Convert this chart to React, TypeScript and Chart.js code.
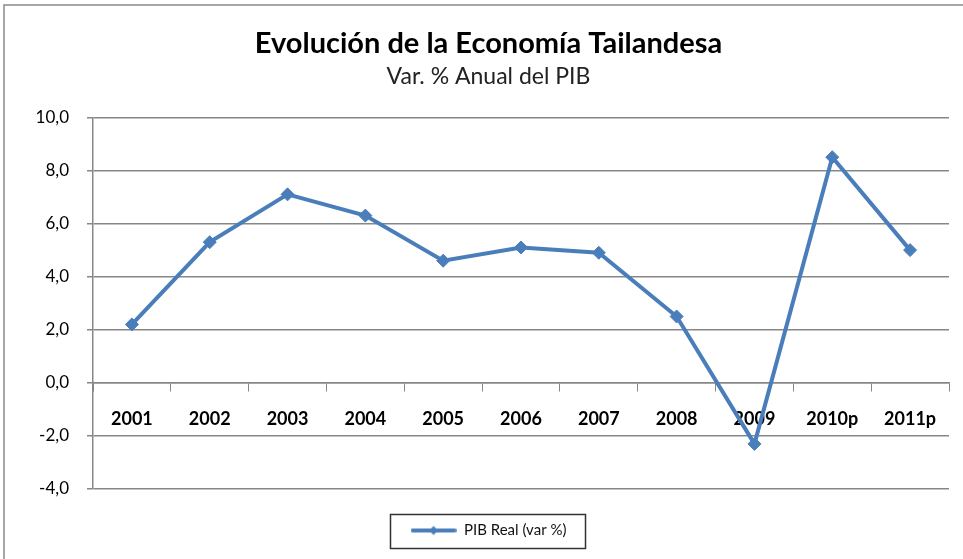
import React, { useEffect, useRef } from "react";
import { Chart, registerables } from "chart.js";

Chart.register(...registerables);

const categories = ["2001", "2002", "2003", "2004", "2005", "2006", "2007", "2008", "2009", "2010p", "2011p"];
const pibReal = [2.2, 5.3, 7.1, 6.3, 4.6, 5.1, 4.9, 2.5, -2.3, 8.5, 5.0];
const seriesLabel = "PIB Real (var %)";
const titleText = "Evolución de la Economía Tailandesa";
const subtitleText = "Var. % Anual del PIB";
const yMin = -4;
const yMax = 10;
const yStep = 2;

const BLUE = "#4A7EBB";
const GRID = "#878787";
const FONT = "Lato, 'Open Sans', sans-serif";

function makeLegendIcon(): HTMLCanvasElement {
  const c = document.createElement("canvas");
  c.width = 46;
  c.height = 12;
  const ctx = c.getContext("2d")!;
  ctx.strokeStyle = BLUE;
  ctx.lineWidth = 4;
  ctx.lineCap = "round";
  ctx.beginPath();
  ctx.moveTo(2, 6);
  ctx.lineTo(44, 6);
  ctx.stroke();
  ctx.fillStyle = BLUE;
  ctx.beginPath();
  ctx.moveTo(23, 1.5);
  ctx.lineTo(27.5, 6);
  ctx.lineTo(23, 10.5);
  ctx.lineTo(18.5, 6);
  ctx.closePath();
  ctx.fill();
  return c;
}

const framePlugin = {
  id: "frame",
  beforeDraw(chart: any) {
    const ctx = chart.ctx;
    ctx.save();
    ctx.fillStyle = "#ffffff";
    ctx.fillRect(0, 0, chart.width, chart.height);
    ctx.strokeStyle = "#8a8a8a";
    ctx.lineWidth = 1.5;
    ctx.strokeRect(4, 5, chart.width + 20, chart.height + 20);
    ctx.restore();
  },
  afterDraw(chart: any) {
    const lg = chart.legend;
    if (!lg || !lg.legendHitBoxes || !lg.legendHitBoxes.length) return;
    const hb = lg.legendHitBoxes[0];
    const ctx = chart.ctx;
    ctx.save();
    ctx.strokeStyle = "#333333";
    ctx.lineWidth = 1.5;
    const x0 = hb.left - 21;
    const y0 = hb.top - 9;
    const w = hb.width + 39;
    const h = hb.height + 19;
    ctx.strokeRect(Math.round(x0) + 0.5, Math.round(y0) + 0.5, Math.round(w), Math.round(h));
    ctx.restore();
  },
};

export default function App() {
  const ref = useRef<HTMLCanvasElement>(null);

  useEffect(() => {
    document.body.style.margin = "0";
    const icon = makeLegendIcon();
    const chart = new Chart(ref.current!, {
      type: "line",
      data: {
        labels: categories,
        datasets: [
          {
            label: seriesLabel,
            data: pibReal,
            borderColor: BLUE,
            backgroundColor: BLUE,
            borderWidth: 4,
            pointStyle: "rectRot",
            pointRadius: 6.5,
            pointBackgroundColor: BLUE,
            pointBorderColor: BLUE,
            pointBorderWidth: 1,
            tension: 0,
            clip: false as any,
          },
        ],
      },
      options: {
        responsive: false,
        animation: false,
        layout: { padding: { left: 28, right: 14, top: 0, bottom: 11 } },
        plugins: {
          title: {
            display: true,
            text: titleText,
            color: "#000000",
            font: { family: FONT, size: 29, weight: "bold" },
            padding: { top: 26, bottom: 2 },
          },
          subtitle: {
            display: true,
            text: subtitleText,
            color: "#222222",
            font: { family: FONT, size: 23, weight: "normal" },
            padding: { top: 0, bottom: 27 },
          },
          legend: {
            display: true,
            position: "bottom",
            labels: {
              usePointStyle: true,
              pointStyle: icon as any,
              pointStyleWidth: 46,
              boxHeight: 12,
              color: "#111111",
              font: { family: FONT, size: 15 },
              padding: 34,
            },
          },
          tooltip: { enabled: false },
        },
        scales: {
          x: {
            type: "category",
            position: { y: 0 } as any,
            offset: true,
            afterFit: (s: any) => {
              s.height = 0;
            },
            grid: {
              display: true,
              drawOnChartArea: false,
              drawTicks: true,
              tickLength: 8,
              offset: true,
              color: GRID,
            },
            border: { display: true, color: GRID, width: 1.5 },
            ticks: {
              color: "#000000",
              font: { family: FONT, size: 18, weight: "bold" },
              padding: 18,
              maxRotation: 0,
              autoSkip: false,
            },
          },
          y: {
            min: yMin,
            max: yMax,
            afterFit: (s: any) => {
              s.width = 65;
            },
            grid: {
              color: GRID,
              lineWidth: 1.5,
              drawTicks: true,
              tickLength: 6,
            },
            border: { display: true, color: GRID, width: 1.5 },
            ticks: {
              stepSize: yStep,
              color: "#000000",
              font: { family: FONT, size: 17 },
              padding: 18,
              callback: (v: any) => Number(v).toFixed(1).replace(".", ","),
            },
          },
        },
      },
      plugins: [framePlugin],
    });
    return () => chart.destroy();
  }, []);

  return (
    <div style={{ position: "fixed", left: 0, top: 0, width: 963, height: 559 }}>
      <canvas ref={ref} width={963} height={559} style={{ width: 963, height: 559 }} />
    </div>
  );
}
